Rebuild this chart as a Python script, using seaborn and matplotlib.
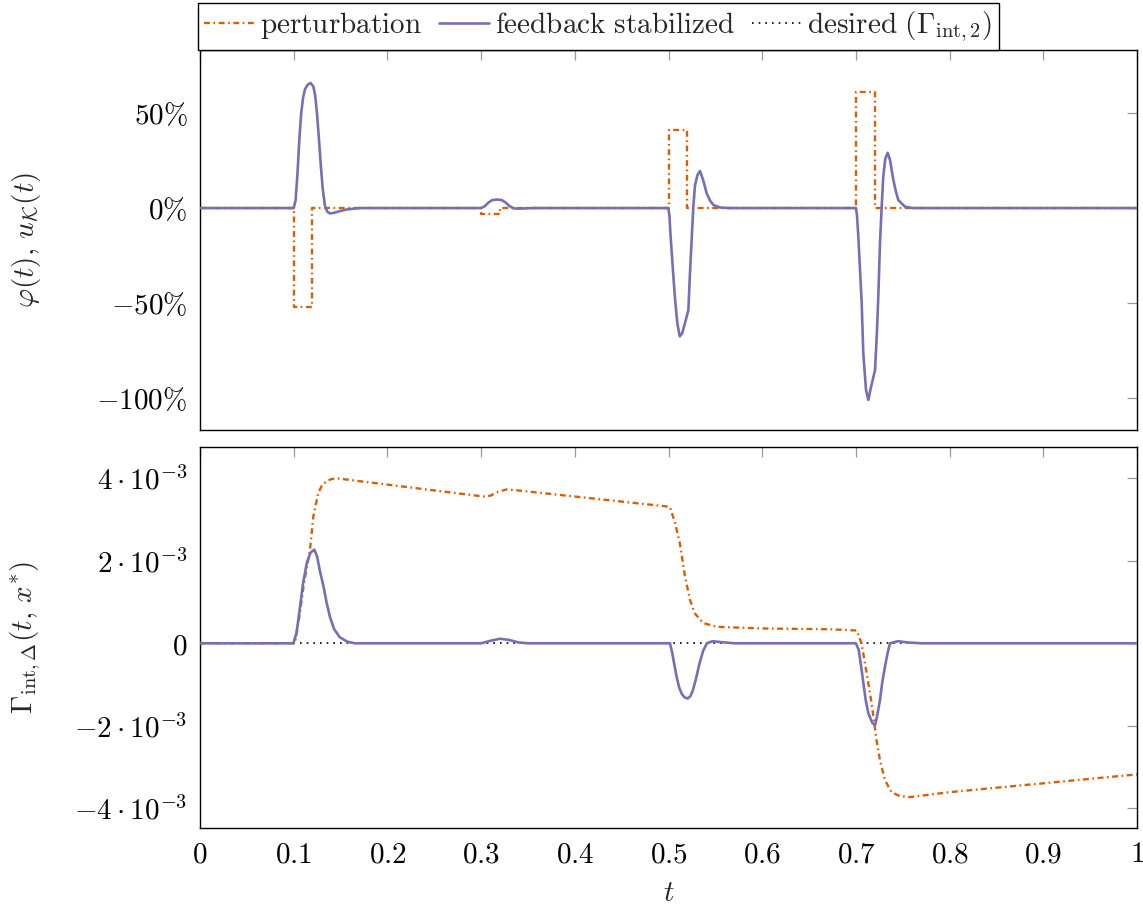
import matplotlib
matplotlib.use("Agg")
import matplotlib.pyplot as plt
import seaborn as sns

# ---------------- data ----------------
# top panel: perturbation phi(t) [%]
pert_top_t = [0, 0.1, 0.1, 0.12, 0.12, 0.3, 0.3, 0.32, 0.32, 0.5, 0.5, 0.52, 0.52,
              0.7, 0.7, 0.72, 0.72, 1.0]
pert_top_v = [0, 0, -52, -52, 0, 0, -3, -3, 0, 0, 41, 41, 0, 0, 61, 61, 0, 0]

# top panel: feedback stabilized u_K(t) [%]
fb_top_t = [0, 0.100, 0.102, 0.104, 0.106, 0.108, 0.110, 0.112, 0.115, 0.118, 0.121, 0.123,
            0.125, 0.127, 0.129, 0.131, 0.1334, 0.136, 0.1387, 0.143, 0.150, 0.157, 0.170,
            0.300, 0.304, 0.308, 0.312, 0.317, 0.322, 0.326, 0.330, 0.334, 0.338, 0.345, 0.355,
            0.4998, 0.5010, 0.502, 0.5045, 0.507, 0.5095, 0.512, 0.5145, 0.5176, 0.5212, 0.5229,
            0.5247, 0.5265, 0.5283, 0.531, 0.5336, 0.537, 0.5408, 0.5445, 0.548, 0.555, 0.565,
            0.7001, 0.7012, 0.7026, 0.7062, 0.7079, 0.7108, 0.7133, 0.7158, 0.7204, 0.7222, 0.7239,
            0.7257, 0.7275, 0.7292, 0.7314, 0.7339, 0.7364, 0.740, 0.7428, 0.7453, 0.7524, 0.761, 1.0]
fb_top_v = [0, 0, 4, 18, 36, 50, 58, 62.5, 65, 65.8, 64, 59,
            49, 36, 22, 10, 1, -2, -2.8, -2.5, -1.5, -0.7, 0,
            0, 1, 3, 4.2, 4.5, 4.2, 3, 1.2, 0, -0.3, -0.2, 0,
            0, -4, -13, -31, -48, -61, -67.5, -66, -60.5, -53.7, -34.4,
            -16.8, 0.7, 12.1, 17.5, 19.5, 14.7, 7.7, 3.8, 1.6, 0.3, 0,
            0, -4, -15.1, -50.2, -76.5, -95.8, -101, -94.9, -85.3, -67.7, -46.7,
            -18.6, 0.7, 16.5, 26.1, 29.1, 25.3, 14.7, 8.5, 4.2, 0.7, 0, 0]

# bottom panel: perturbation Gamma_int,Delta(t, x*)
pert_bot_t = [0, 0.100, 0.1014, 0.106, 0.111, 0.1174, 0.121, 0.1263, 0.130, 0.135, 0.140, 0.146,
              0.256, 0.3024, 0.31, 0.318, 0.327, 0.338, 0.4977, 0.5016, 0.507, 0.5123,
              0.5176, 0.523, 0.528, 0.537, 0.5514, 0.5977, 0.672, 0.7008, 0.706, 0.7115,
              0.7168, 0.722, 0.7257, 0.731, 0.738, 0.747, 0.7577, 0.8004, 1.0]
pert_bot_v = [0, 0, 0.02e-3, 0.64e-3, 1.46e-3, 2.27e-3, 3.08e-3, 3.65e-3, 3.82e-3, 3.93e-3, 3.98e-3, 4.00e-3,
              3.69e-3, 3.56e-3, 3.58e-3, 3.67e-3, 3.73e-3, 3.71e-3, 3.32e-3, 3.30e-3, 2.92e-3, 2.40e-3,
              1.62e-3, 1.05e-3, 0.73e-3, 0.49e-3, 0.40e-3, 0.36e-3, 0.34e-3, 0.31e-3, 0.0, -0.73e-3,
              -1.46e-3, -2.35e-3, -2.84e-3, -3.32e-3, -3.61e-3, -3.71e-3, -3.73e-3, -3.61e-3, -3.18e-3]

# bottom panel: feedback stabilized
fb_bot_t = [0, 0.0996, 0.103, 0.106, 0.110, 0.114, 0.118, 0.122, 0.125, 0.128, 0.1316,
            0.135, 0.1387, 0.143, 0.149, 0.157, 0.165,
            0.300, 0.310, 0.320, 0.330, 0.340, 0.350,
            0.5016, 0.504, 0.5065, 0.509, 0.5115, 0.514, 0.517, 0.5205, 0.5235, 0.526, 0.529,
            0.533, 0.537, 0.541, 0.547, 0.555, 0.570,
            0.700, 0.703, 0.7055, 0.708, 0.7105, 0.7133, 0.7175, 0.7204, 0.7225, 0.7257, 0.728,
            0.731, 0.7338, 0.7364, 0.7449, 0.755, 0.770, 1.0]
fb_bot_v = [0, 0, 0.25e-3, 0.75e-3, 1.46e-3, 1.95e-3, 2.2e-3, 2.27e-3, 2.1e-3, 1.75e-3, 1.4e-3,
            1.0e-3, 0.64e-3, 0.35e-3, 0.15e-3, 0.04e-3, 0,
            0, 0.06e-3, 0.11e-3, 0.08e-3, 0.02e-3, 0,
            0, -0.24e-3, -0.55e-3, -0.85e-3, -1.08e-3, -1.22e-3, -1.31e-3, -1.34e-3, -1.28e-3, -1.14e-3, -0.89e-3,
            -0.50e-3, -0.18e-3, 0, 0.05e-3, 0.03e-3, 0,
            0, -0.16e-3, -0.55e-3, -0.97e-3, -1.38e-3, -1.70e-3, -1.93e-3, -1.99e-3, -1.78e-3, -1.38e-3, -0.97e-3,
            -0.57e-3, -0.24e-3, 0, 0.05e-3, 0.02e-3, 0, 0]

# desired trajectory
desired_t = [0, 1]
desired_v = [0, 0]

# ticks
x_ticks = [0, 0.1, 0.2, 0.3, 0.4, 0.5, 0.6, 0.7, 0.8, 0.9, 1.0]
x_labels = ["0", "0.1", "0.2", "0.3", "0.4", "0.5", "0.6", "0.7", "0.8", "0.9", "1"]
top_ticks = [-100, -50, 0, 50]
top_labels = [r"$-100\%$", r"$-50\%$", r"$0\%$", r"$50\%$"]
bot_ticks = [-4e-3, -2e-3, 0, 2e-3, 4e-3]
bot_labels = [r"$-4\cdot10^{-3}$", r"$-2\cdot10^{-3}$", r"$0$", r"$2\cdot10^{-3}$", r"$4\cdot10^{-3}$"]

labels = [r"$\mathrm{perturbation}$", r"$\mathrm{feedback\ stabilized}$",
          r"$\mathrm{desired}\ (\Gamma_{\mathrm{int},2})$"]

# ---------------- style ----------------
sns.set_theme(style="white")
plt.rcParams["mathtext.fontset"] = "cm"
plt.rcParams["font.family"] = ["DejaVu Serif"]

ORANGE = "#d95f02"
PURPLE = "#7570b3"
FS = 21
LW = 1.7
DASHDOT = (0, (2.5, 1.5, 0.7, 1.5))
DOTTED = (0, (1, 3))

W, H = 1143, 907
fig = plt.figure(figsize=(W / 100, H / 100), dpi=100)
ax1 = fig.add_axes([200 / W, 1 - 430 / H, 937 / W, 380 / H])
ax2 = fig.add_axes([200 / W, 1 - 828 / H, 937 / W, 381 / H])

common = dict(estimator=None, sort=False, errorbar=None)

sns.lineplot(x=pert_top_t, y=pert_top_v, ax=ax1, color=ORANGE, lw=LW, linestyle=DASHDOT,
             label=labels[0], zorder=2, **common)
sns.lineplot(x=fb_top_t, y=fb_top_v, ax=ax1, color=PURPLE, lw=LW + 0.2,
             label=labels[1], zorder=3, **common)

sns.lineplot(x=desired_t, y=desired_v, ax=ax2, color="black", lw=1.2, linestyle=DOTTED,
             label=labels[2], zorder=1, **common)
sns.lineplot(x=pert_bot_t, y=pert_bot_v, ax=ax2, color=ORANGE, lw=LW, linestyle=DASHDOT,
             zorder=2, **common)
sns.lineplot(x=fb_bot_t, y=fb_bot_v, ax=ax2, color=PURPLE, lw=LW + 0.2, zorder=3, **common)

h1, l1 = ax1.get_legend_handles_labels()
h2, l2 = ax2.get_legend_handles_labels()
for ax in (ax1, ax2):
    if ax.get_legend() is not None:
        ax.get_legend().remove()

for ax in (ax1, ax2):
    ax.set_xlim(0, 1)
    ax.set_xticks(x_ticks)
    ax.tick_params(direction="in", top=True, right=True, length=7, width=0.9,
                   color="#9a9a9a", labelcolor="black", labelsize=FS, pad=9)
    for s in ax.spines.values():
        s.set_color("black")
        s.set_linewidth(1.0)
    ax.grid(False)

ax1.set_ylim(-116.8, 83.2)
ax1.set_yticks(top_ticks)
ax1.set_yticklabels(top_labels)
ax1.set_xticklabels([])
ax1.set_xlabel("")
ax1.set_ylabel(r"$\varphi(t),\, u_{\mathcal{K}}(t)$", fontsize=FS)
ax1.yaxis.set_label_coords(-0.168, 0.5)

ax2.set_ylim(-4.48e-3, 4.76e-3)
ax2.set_yticks(bot_ticks)
ax2.set_yticklabels(bot_labels)
ax2.set_xticklabels([f"${s}$" for s in x_labels])
ax2.set_xlabel(r"$t$", fontsize=FS)
ax2.xaxis.set_label_coords(0.5, -0.135)
ax2.set_ylabel(r"$\Gamma_{\mathrm{int},\Delta}(t,\, x^{*})$", fontsize=FS)
ax2.yaxis.set_label_coords(-0.168, 0.5)

leg = fig.legend(h1 + h2, l1 + l2, loc="upper left", bbox_to_anchor=(198 / W, 1 - 3 / H),
                 ncol=3, frameon=True, fancybox=False, edgecolor="black", framealpha=1,
                 borderaxespad=0, handlelength=1.7, handletextpad=0.2, columnspacing=0.6,
                 borderpad=0.22, fontsize=FS)
leg.get_frame().set_linewidth(1.0)

fig.savefig("out.png", dpi=100)
